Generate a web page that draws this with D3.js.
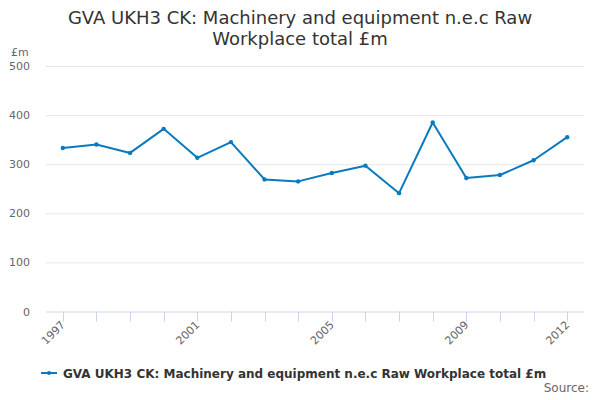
<!DOCTYPE html>
<html>
<head>
<meta charset="utf-8">
<script src="https://cdnjs.cloudflare.com/ajax/libs/d3/7.8.5/d3.min.js"></script>
<style>
  body { margin: 0; background: #fff; }
  svg { font-family: "DejaVu Sans", sans-serif; display: block; }
</style>
</head>
<body>
<div id="chart"></div>
<script>
// data
const years = ["1997", "1998", "1999", "2000", "2001", "2002", "2003", "2004",
    "2005", "2006", "2007", "2008", "2009", "2010", "2011", "2012"]
const values = [333, 340, 323, 372, 313, 345, 269, 265, 282, 297, 241, 385, 272, 278, 308, 355]
const yTicks = [0, 100, 200, 300, 400, 500]
const xLabels = ["1997", "2001", "2005", "2009", "2012"]
const titleLines = ["GVA UKH3 CK: Machinery and equipment n.e.c Raw", "Workplace total £m"]
const seriesName = "GVA UKH3 CK: Machinery and equipment n.e.c Raw Workplace total £m"

const width = 600, height = 400
const margin = { top: 66, right: 16, bottom: 88.5, left: 46 }
const ctxWidth = width - margin.left - margin.right
const ctxHeight = height - margin.top - margin.bottom
const lineColor = "#0a7abf"

const svg = d3.select("#chart")
    .append("svg")
    .attr("width", width)
    .attr("height", height)

// title
svg.append("text")
    .attr("x", width / 2)
    .attr("y", 24)
    .attr("text-anchor", "middle")
    .style("font-size", "18px")
    .style("fill", "#333")
    .selectAll("tspan")
    .data(titleLines)
    .join("tspan")
    .attr("x", width / 2)
    .attr("dy", (d, i) => i ? 21 : 0)
    .text(d => d)

const g = svg.append("g")
    .attr("transform", `translate(${margin.left},${margin.top})`)

const x = d3.scaleBand()
    .domain(years)
    .range([0, ctxWidth])

const y = d3.scaleLinear()
    .domain([0, 500])
    .range([ctxHeight, 0])

const cx = d => x(d) + x.bandwidth() / 2

// gridlines + y labels
g.selectAll(".grid")
    .data(yTicks.filter(d => d > 0))
    .join("line")
    .attr("x1", 0)
    .attr("x2", ctxWidth)
    .attr("y1", d => y(d) + 0.5)
    .attr("y2", d => y(d) + 0.5)
    .style("stroke", "#e6e6e6")

g.selectAll(".ylab")
    .data(yTicks)
    .join("text")
    .attr("x", -16)
    .attr("y", d => y(d) + 4)
    .attr("text-anchor", "end")
    .style("font-size", "11px")
    .style("fill", "#666")
    .text(d => d)

svg.append("text")
    .attr("x", 11)
    .attr("y", 56)
    .style("font-size", "11px")
    .style("fill", "#666")
    .text("£m")

// x axis
const xAxis = g.append("g")
    .attr("transform", `translate(0,${ctxHeight})`)
xAxis.append("line")
    .attr("x1", 0)
    .attr("x2", ctxWidth)
    .attr("y1", 0.5)
    .attr("y2", 0.5)
    .style("stroke", "#ccd6eb")
xAxis.selectAll(".tick")
    .data(years)
    .join("line")
    .attr("x1", d => Math.round(cx(d)) + 0.5)
    .attr("x2", d => Math.round(cx(d)) + 0.5)
    .attr("y1", 0)
    .attr("y2", 10)
    .style("stroke", "#ccd6eb")
xAxis.selectAll(".xlab")
    .data(xLabels)
    .join("text")
    .attr("transform", d => `translate(${cx(d) + 3},${14}) rotate(-45)`)
    .attr("text-anchor", "end")
    .style("font-size", "11px")
    .style("fill", "#666")
    .text(d => d)

// the series
const line = d3.line()
    .x((d, i) => cx(years[i]))
    .y(d => y(d))

g.append("path")
    .datum(values)
    .attr("d", line)
    .style("fill", "none")
    .style("stroke", lineColor)
    .style("stroke-width", 2)
    .style("stroke-linejoin", "round")

g.selectAll(".dot")
    .data(values)
    .join("circle")
    .attr("cx", (d, i) => cx(years[i]))
    .attr("cy", d => y(d))
    .attr("r", 2.2)
    .style("fill", lineColor)

// legend
const legend = svg.append("g")
    .attr("transform", "translate(41,373)")
legend.append("line")
    .attr("x1", 0).attr("x2", 16)
    .style("stroke", lineColor)
    .style("stroke-width", 2)
legend.append("circle")
    .attr("cx", 8).attr("r", 2)
    .style("fill", lineColor)
legend.append("text")
    .attr("x", 22)
    .attr("y", 4.5)
    .style("font-size", "12px")
    .style("font-weight", "bold")
    .style("fill", "#333")
    .text(seriesName)

svg.append("text")
    .attr("x", 589)
    .attr("y", 392)
    .attr("text-anchor", "end")
    .style("font-size", "12px")
    .style("fill", "#666")
    .text("Source:")
</script>
</body>
</html>
